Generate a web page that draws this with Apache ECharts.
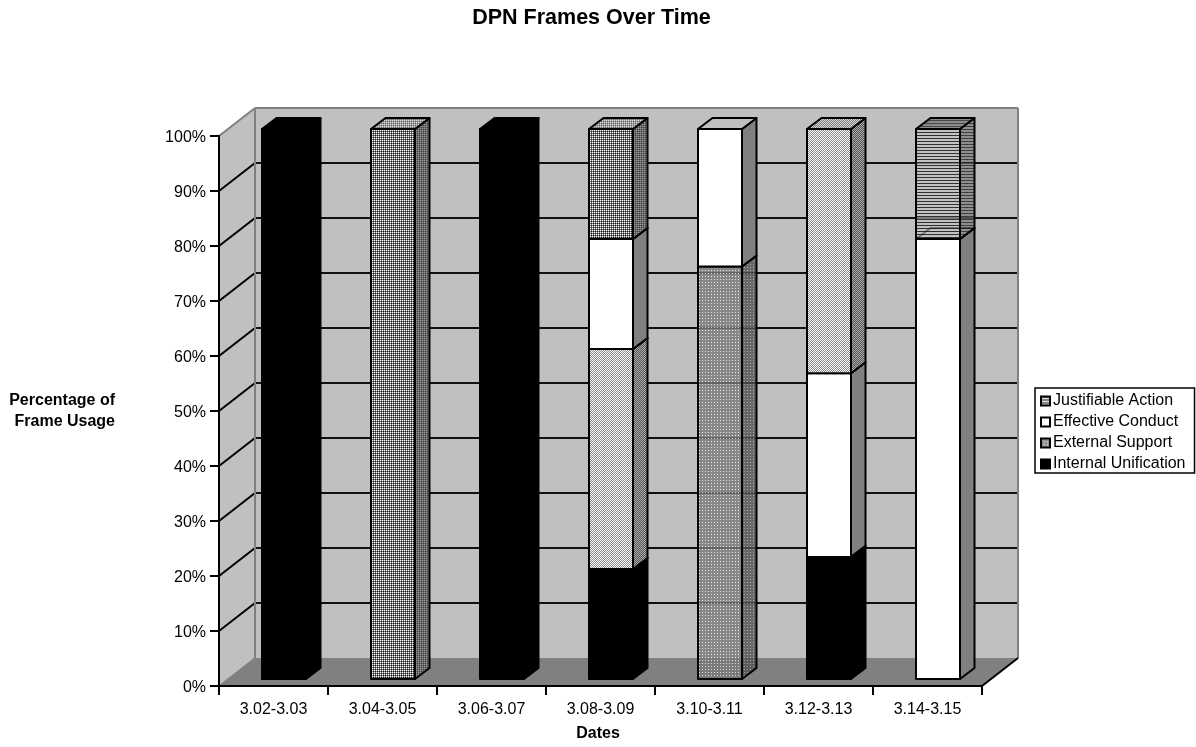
<!DOCTYPE html>
<html><head><meta charset="utf-8">
<style>html,body{margin:0;padding:0;background:#fff}#c{width:1196px;height:747px}</style>
<script src="https://cdn.jsdelivr.net/npm/echarts@6/dist/echarts.min.js"></script>
</head><body><div id="c"></div>
<script>
const categories = ['3.02-3.03','3.04-3.05','3.06-3.07','3.08-3.09','3.10-3.11','3.12-3.13','3.14-3.15'];
const internalUnification = [100,0,100,20,0,22.2,0];
const externalSupport     = [0,0,0,0,75,0,0];
const lightCheckLower     = [0,0,0,40,0,0,0];
const effectiveConduct    = [0,0,0,20,25,33.4,80];
const lightCheckUpper     = [0,0,0,0,0,44.4,0];
const fineDots            = [0,100,0,20,0,0,0];
const justifiableAction   = [0,0,0,0,0,0,20];
const yTicks = [0,10,20,30,40,50,60,70,80,90,100];

const font = '"Liberation Sans", Arial, sans-serif';
const DEPTH = [36,-28], BAR_OFF = [10.5,-7], BAR_D = [14.5,-11], BAR_W = 44;

function tile(w,h,paint){
  const c=document.createElement('canvas');c.width=w;c.height=h;
  const g=c.getContext('2d');
  for(let y=0;y<h;y++)for(let x=0;x<w;x++){g.fillStyle=paint(x,y);g.fillRect(x,y,1,1);}
  return {image:c,repeat:'repeat'};
}
const faces = {
  black: {front:'#000',side:'#000',top:'#000'},
  white: {front:'#fff',side:'#808080',top:'#c0c0c0'},
  fine: {
    front:tile(2,2,(x,y)=>x==0&&y==0?'#fff':(x==1&&y==1?'#222':'#777')),
    side:tile(2,2,(x,y)=>x==0&&y==0?'#999':(x==1&&y==1?'#444':'#666')),
    top:tile(2,2,(x,y)=>x==0&&y==0?'#ddd':(x==1&&y==1?'#666':'#999'))},
  light: {
    front:tile(2,2,(x,y)=>(x+y)%2?'#888':'#fff'),
    side:tile(2,2,(x,y)=>(x+y)%2?'#555':'#aaa'),
    top:tile(2,2,(x,y)=>(x+y)%2?'#777':'#ddd')},
  ext: {
    front:tile(3,3,(x,y)=>x==0&&y==0?'rgba(235,235,235,.9)':'rgba(120,120,120,.8)'),
    side:tile(3,3,(x,y)=>x==0&&y==0?'rgba(170,170,170,.9)':'rgba(80,80,80,.8)'),
    top:tile(3,3,(x,y)=>x==0&&y==0?'rgba(200,200,200,.9)':'rgba(100,100,100,.8)')},
  just: {
    front:tile(1,3,(x,y)=>y==0?'rgba(40,40,40,.95)':'rgba(195,195,195,.6)'),
    side:tile(1,3,(x,y)=>y==0?'rgba(40,40,40,.85)':'rgba(115,115,115,.65)'),
    top:tile(1,3,(x,y)=>y==0?'rgba(60,60,60,.9)':'rgba(125,125,125,.8)')}
};
const stackOrder = [
  ['Internal Unification',internalUnification,'black'],
  ['External Support',externalSupport,'ext'],
  ['Lower Check',lightCheckLower,'light'],
  ['Effective Conduct',effectiveConduct,'white'],
  ['Upper Check',lightCheckUpper,'light'],
  ['Fine Dots',fineDots,'fine'],
  ['Justifiable Action',justifiableAction,'just']
];
function renderWalls(params,api){
  const cs=params.coordSys, L=cs.x, R=cs.x+cs.width, c=[];
  const y0=api.coord([0,0])[1], y1=api.coord([0,100])[1];
  const poly=(pts,fill)=>({type:'polygon',shape:{points:pts},style:{fill:fill}});
  const line=(x1,y1_,x2,y2,stroke,lw)=>({type:'line',shape:{x1:x1,y1:y1_,x2:x2,y2:y2},style:{stroke:stroke,lineWidth:lw}});
  const dx=DEPTH[0], dy=DEPTH[1];
  c.push(poly([[L+dx,y1+dy],[R+dx,y1+dy],[R+dx,y0+dy],[L+dx,y0+dy]],'#c0c0c0'));
  c.push(poly([[L,y1],[L+dx,y1+dy],[L+dx,y0+dy],[L,y0]],'#c0c0c0'));
  c.push(poly([[L,y0],[L+dx,y0+dy],[R+dx,y0+dy],[R,y0]],'#808080'));
  yTicks.forEach(v=>{
    if(v==0||v==100)return;
    const y=api.coord([0,v])[1];
    c.push(line(L,y,L+dx,y+dy,'#000',2));
    c.push(line(L+dx,y+dy,R+dx,y+dy,'#111',2));
  });
  c.push(line(L,y1,L+dx,y1+dy,'#808080',2));
  c.push(line(L+dx,y1+dy,R+dx,y1+dy,'#808080',2));
  c.push(line(R+dx,y1+dy,R+dx,y0+dy,'#808080',2));
  c.push(line(L+dx,y1+dy,L+dx,y0+dy,'#808080',2));
  c.push(line(L,y0,L+dx,y0+dy,'#808080',1.5));
  c.push(line(R,y0,R+dx,y0+dy,'#000',2));
  return {type:'group',children:c};
}
function barRenderer(face){
  return function(params,api){
    const bot=api.coord([api.value(0),api.value(1)]), top=api.coord([api.value(0),api.value(2)]);
    const x0=bot[0]+BAR_OFF[0]-BAR_W/2, x1=x0+BAR_W;
    const yb=bot[1]+BAR_OFF[1], yt=top[1]+BAR_OFF[1];
    const ddx=BAR_D[0], ddy=BAR_D[1];
    const st=f=>({fill:f,stroke:'#000',lineWidth:2,lineJoin:'round'});
    return {type:'group',children:[
      {type:'polygon',shape:{points:[[x1,yt],[x1+ddx,yt+ddy],[x1+ddx,yb+ddy],[x1,yb]]},style:st(face.side)},
      {type:'polygon',shape:{points:[[x0,yt],[x0+ddx,yt+ddy],[x1+ddx,yt+ddy],[x1,yt]]},style:st(face.top)},
      {type:'polygon',shape:{points:[[x0,yt],[x1,yt],[x1,yb],[x0,yb]]},style:st(face.front)}
    ]};
  };
}
const series=[{type:'custom',name:'walls',silent:true,z:1,data:[[0,0]],encode:{x:0,y:1},renderItem:renderWalls}];
const base=categories.map(()=>0);
stackOrder.forEach(([name,vals,kind])=>{
  const d=[];
  vals.forEach((v,i)=>{ if(v>0){d.push([i,base[i],base[i]+v]);base[i]+=v;} });
  series.push({type:'custom',name:name,z:2,silent:true,data:d,encode:{x:0,y:[1,2]},itemStyle:{color:'#000'},renderItem:barRenderer(faces[kind])});
});
const legendItem=(n,f)=>({name:n,icon:'rect',itemStyle:{color:f,borderColor:'#000',borderWidth:2}});
const chart=echarts.init(document.getElementById('c'));
chart.setOption({
  animation:false,backgroundColor:'#fff',
  title:{text:'DPN Frames Over Time',left:586.5,textAlign:'center',top:2.5,textStyle:{fontFamily:font,fontWeight:'bold',fontSize:21.5,color:'#000'}},
  legend:{orient:'vertical',left:1035,top:388,selectedMode:false,backgroundColor:'#fff',borderColor:'#000',borderWidth:1.5,borderRadius:0,
    padding:[5,9,1,5],itemWidth:9,itemHeight:9,itemGap:5,textStyle:{fontFamily:font,fontSize:16,color:'#000',padding:[0,0,0,-2]},
    data:[legendItem('Justifiable Action',faces.just.front),legendItem('Effective Conduct',faces.white.front),legendItem('External Support',faces.ext.front),legendItem('Internal Unification',faces.black.front)]},
  grid:{left:219,top:136,width:763,height:550,containLabel:false,outerBoundsMode:'none'},
  xAxis:{type:'category',data:categories,z:10,name:'Dates',nameLocation:'middle',nameGap:40,
    nameTextStyle:{fontFamily:font,fontWeight:'bold',fontSize:16,color:'#000',padding:[0,5,0,0]},
    axisLine:{show:true,lineStyle:{color:'#000',width:2}},axisTick:{show:true,length:9,lineStyle:{color:'#000',width:2}},
    axisLabel:{fontFamily:font,fontSize:16,color:'#000',margin:16}},
  yAxis:{type:'value',min:0,max:100,interval:10,z:10,name:'Percentage of\nFrame Usage',nameLocation:'middle',nameRotate:0,nameGap:104,
    nameTextStyle:{fontFamily:font,fontWeight:'bold',fontSize:16,color:'#000',align:'right',lineHeight:21},
    splitLine:{show:false},axisLine:{show:true,lineStyle:{color:'#000',width:2}},axisTick:{show:true,length:9,lineStyle:{color:'#000',width:2}},
    axisLabel:{fontFamily:font,fontSize:16,color:'#000',margin:13,verticalAlign:'top',lineHeight:4,formatter:'{value}%'}},
  series:series
});
</script></body></html>
